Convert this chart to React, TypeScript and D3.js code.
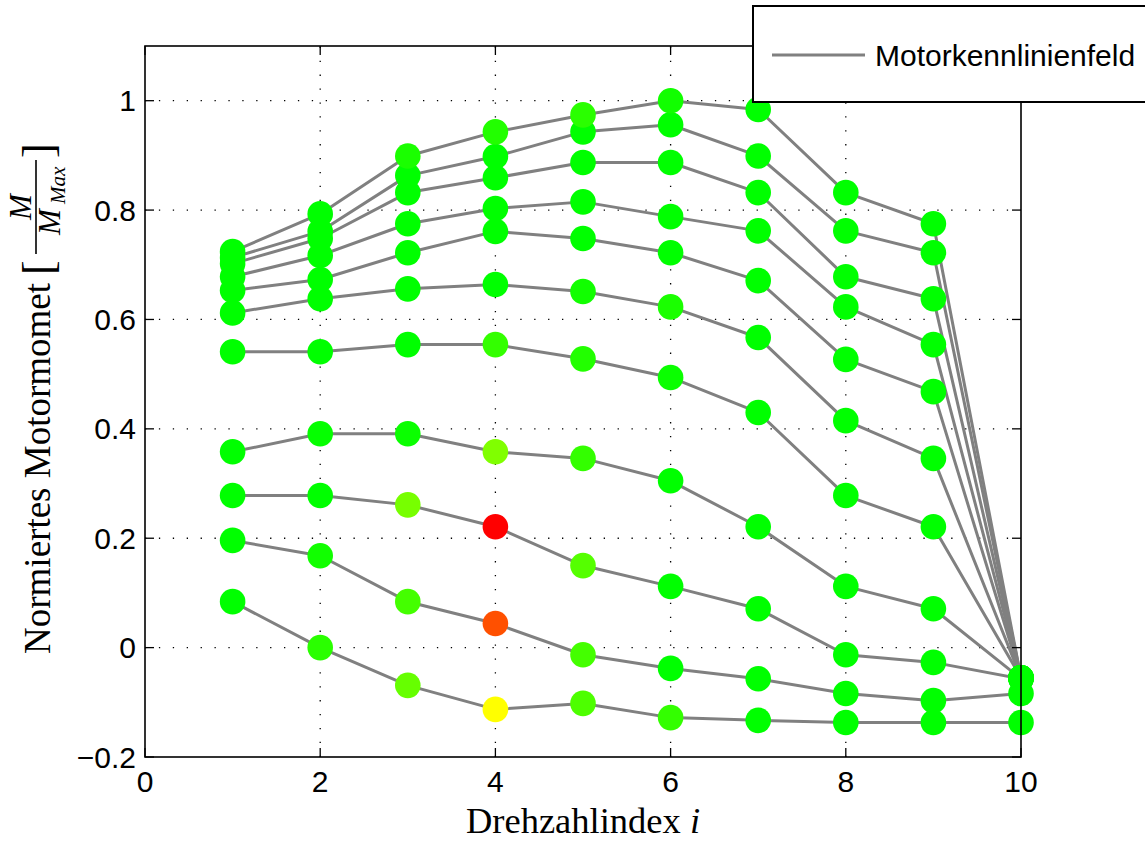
import React from "react";
import * as d3 from "d3";

// Drehzahlindex (speed index)
const speedIndex = [1, 2, 3, 4, 5, 6, 7, 8, 9, 10];

// normalized torque curves (one per characteristic line), values at speed index 1..10
const curve1 = [0.724, 0.793, 0.899, 0.943, 0.974, 1.0, 0.984, 0.832, 0.775, -0.055];
const curve2 = [0.713, 0.761, 0.863, 0.898, 0.943, 0.956, 0.899, 0.762, 0.722, -0.055];
const curve3 = [0.702, 0.748, 0.832, 0.859, 0.887, 0.887, 0.832, 0.678, 0.638, -0.055];
const curve4 = [0.678, 0.717, 0.775, 0.803, 0.815, 0.788, 0.762, 0.623, 0.554, -0.055];
const curve5 = [0.653, 0.673, 0.722, 0.761, 0.748, 0.722, 0.671, 0.527, 0.468, -0.055];
const curve6 = [0.612, 0.638, 0.656, 0.664, 0.651, 0.623, 0.567, 0.415, 0.346, -0.055];
const curve7 = [0.541, 0.541, 0.554, 0.554, 0.528, 0.494, 0.43, 0.278, 0.221, -0.055];
const curve8 = [0.358, 0.391, 0.391, 0.358, 0.346, 0.305, 0.221, 0.112, 0.071, -0.057];
const curve9 = [0.278, 0.278, 0.261, 0.221, 0.15, 0.112, 0.071, -0.013, -0.027, -0.057];
const curve10 = [0.196, 0.168, 0.084, 0.044, -0.013, -0.038, -0.057, -0.084, -0.097, -0.084];
const curve11 = [0.084, 0.0, -0.069, -0.113, -0.102, -0.128, -0.133, -0.137, -0.137, -0.137];

// marker colour value per point (0 = green, 0.5 = yellow, 1 = red)
const heat1 = [0, 0, 0.05, 0.067, 0.083, 0.033, 0, 0, 0, 0];
const heat2 = [0, 0, 0, 0, 0, 0, 0, 0, 0, 0];
const heat3 = [0, 0, 0, 0, 0, 0, 0, 0, 0, 0];
const heat4 = [0, 0, 0, 0, 0, 0, 0, 0, 0, 0];
const heat5 = [0, 0, 0, 0, 0, 0, 0, 0, 0, 0];
const heat6 = [0, 0, 0, 0, 0.033, 0.05, 0, 0, 0, 0];
const heat7 = [0, 0, 0, 0.1, 0.067, 0.02, 0, 0, 0, 0];
const heat8 = [0, 0.01, 0.02, 0.25, 0.1, 0, 0, 0, 0, 0];
const heat9 = [0, 0, 0.233, 1.0, 0.167, 0, 0, 0, 0, 0];
const heat10 = [0, 0.033, 0.133, 0.843, 0.133, 0, 0, 0, 0, 0];
const heat11 = [0, 0.083, 0.2, 0.5, 0.15, 0.1, 0, 0, 0, 0];

const curves = [curve1, curve2, curve3, curve4, curve5, curve6, curve7, curve8, curve9, curve10, curve11];
const heats = [heat1, heat2, heat3, heat4, heat5, heat6, heat7, heat8, heat9, heat10, heat11];

const xTicks = [0, 2, 4, 6, 8, 10];
const yTicks = [-0.2, 0, 0.2, 0.4, 0.6, 0.8, 1];
const xGrid = [2, 4, 6, 8];
const yGrid = [0, 0.2, 0.4, 0.6, 0.8, 1];

const legendLabel = "Motorkennlinienfeld";

const W = 1145;
const H = 841;
const L = 145;
const R = 1021;
const T = 46;
const B = 757;

const fmtY = (v: number) => {
  if (v === 0) return "0";
  if (v === 1) return "1";
  const s = Math.abs(v).toFixed(1);
  return (v < 0 ? "\u2212" : "") + s;
};

export default function App() {
  const x = d3.scaleLinear().domain([0, 10]).range([L, R]);
  const y = d3.scaleLinear().domain([-0.2, 1.1]).range([B, T]);
  const color = d3
    .scaleLinear<string>()
    .domain([0, 0.5, 1])
    .range(["#00ff00", "#ffff00", "#ff0000"])
    .interpolate(d3.interpolateRgb);
  const line = d3
    .line<number>()
    .x((_, i) => x(speedIndex[i]))
    .y((d) => y(d));

  const sans = "'Liberation Sans', Arial, Helvetica, sans-serif";
  const serif = "'Liberation Serif', 'Times New Roman', serif";
  const tickLen = 9;
  const order = curves.map((_, i) => curves.length - 1 - i);

  return (
    <svg
      width={W}
      height={H}
      viewBox={`0 0 ${W} ${H}`}
      style={{ position: "absolute", left: 0, top: 0, background: "#fff" }}
    >
      <rect x={0} y={0} width={W} height={H} fill="#fff" />
      {/* grid */}
      <g stroke="#000" strokeWidth={1.3} strokeDasharray="1.3 12.6" fill="none">
        {xGrid.map((g) => (
          <line key={"gx" + g} x1={x(g)} x2={x(g)} y1={B} y2={T} />
        ))}
        {yGrid.map((g) => (
          <line key={"gy" + g} x1={L} x2={R} y1={y(g)} y2={y(g)} />
        ))}
      </g>
      {/* lines */}
      <g fill="none" stroke="#808080" strokeWidth={3} strokeLinejoin="round">
        {order.map((i) => (
          <path key={"l" + i} d={line(curves[i]) || ""} />
        ))}
      </g>
      {/* markers */}
      <g>
        {order.map((i) =>
          curves[i].map((v, j) => (
            <circle
              key={`c${i}-${j}`}
              cx={x(speedIndex[j])}
              cy={y(v)}
              r={12.8}
              fill={color(heats[i][j])}
            />
          ))
        )}
      </g>
      {/* axes box */}
      <rect x={L} y={T} width={R - L} height={B - T} fill="none" stroke="#000" strokeWidth={1.6} />
      {/* ticks */}
      <g stroke="#000" strokeWidth={1.3}>
        {xTicks.map((t) => (
          <g key={"xt" + t}>
            <line x1={x(t)} x2={x(t)} y1={B} y2={B - tickLen} />
            <line x1={x(t)} x2={x(t)} y1={T} y2={T + tickLen} />
          </g>
        ))}
        {yTicks.map((t) => (
          <g key={"yt" + t}>
            <line x1={L} x2={L + tickLen} y1={y(t)} y2={y(t)} />
            <line x1={R} x2={R - tickLen} y1={y(t)} y2={y(t)} />
          </g>
        ))}
      </g>
      {/* tick labels */}
      <g fontFamily={sans} fontSize={30} fill="#000">
        {xTicks.map((t) => (
          <text key={"xl" + t} x={x(t)} y={792} textAnchor="middle">
            {t}
          </text>
        ))}
        {yTicks.map((t) => (
          <text key={"yl" + t} x={136} y={y(t) + 10.5} textAnchor="end">
            {fmtY(t)}
          </text>
        ))}
      </g>
      {/* x label */}
      <text x={(L + R) / 2} y={833} textAnchor="middle" fontFamily={serif} fontSize={36.5} fill="#000">
        Drehzahlindex <tspan fontStyle="italic">i</tspan>
      </text>
      {/* y label (rotated) */}
      <g transform="rotate(-90)" fontFamily={serif} fill="#000">
        <text x={-283} y={50} textAnchor="end" fontSize={37}>
          Normiertes Motormomet
        </text>
        <text x={-275} y={53} textAnchor="start" fontSize={44} fontWeight={300}>
          [
        </text>
        <text x={-207} y={31} textAnchor="middle" fontSize={31} fontStyle="italic">
          M
        </text>
        <line x1={-254} x2={-160} y1={36} y2={36} stroke="#000" strokeWidth={1.6} />
        <text x={-222} y={60} textAnchor="middle" fontSize={31} fontStyle="italic">
          M
        </text>
        <text x={-204} y={65} textAnchor="start" fontSize={21} fontStyle="italic">
          Max
        </text>
        <text x={-158} y={53} textAnchor="start" fontSize={44} fontWeight={300}>
          ]
        </text>
      </g>
      {/* legend */}
      <g>
        <rect x={753} y={6} width={420} height={96} fill="#fff" stroke="#000" strokeWidth={2} />
        <line x1={772} x2={865} y1={55} y2={55} stroke="#808080" strokeWidth={3} />
        <text x={875} y={66} fontFamily={sans} fontSize={30} fill="#000">
          {legendLabel}
        </text>
      </g>
    </svg>
  );
}
